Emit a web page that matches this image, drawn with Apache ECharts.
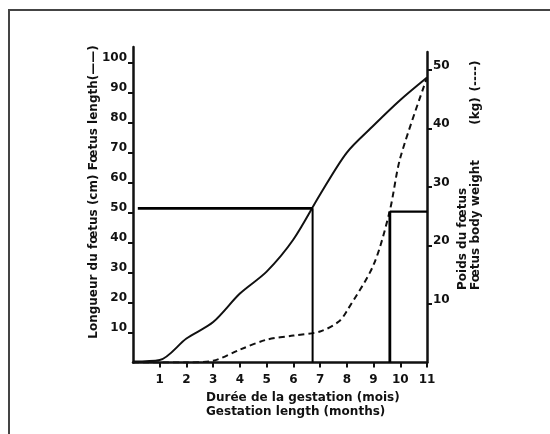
<!DOCTYPE html>
<html>
<head>
<meta charset="utf-8">
<script src="https://cdn.jsdelivr.net/npm/echarts@6/dist/echarts.min.js"></script>
<style>
html,body{margin:0;padding:0;background:#fff;}
#chart{width:550px;height:434px;}
</style>
</head>
<body>
<div id="chart"></div>
<script>
// months on the x axis
const monthTicks = [1, 2, 3, 4, 5, 6, 7, 8, 9, 10, 11]
const lengthTicks = [10, 20, 30, 40, 50, 60, 70, 80, 90, 100]
const weightTicks = [10, 20, 30, 40, 50]

// foetus length (cm), solid line
const lengthMonths = [0, 1, 2, 3, 4, 5, 6, 7, 8, 9, 10, 11]
const lengthCm = [0.3, 0.8, 8, 13.5, 23, 30.3, 41, 56, 70, 79, 87.5, 95]

// foetus weight (kg), dashed line
const weightMonths = [0, 1, 2, 3, 4, 5, 6, 7, 7.7, 8, 9, 9.6, 10, 11]
const weightKg = [0, 0, 0, 0.3, 2.2, 3.9, 4.6, 5.3, 7, 8.8, 16.7, 25.8, 35, 48.7]

// guide lines
const lengthGuideH = [[0.18, 51.4], [6.72, 51.4]]
const lengthGuideV = [[6.72, 51.4], [6.72, 0]]
const weightGuideV = [[9.61, 0], [9.61, 25.8]]
const weightGuideH = [[9.61, 25.8], [11, 25.8]]

const pairs = (xs, ys) => xs.map((x, i) => [x, ys[i]])

const font = '"DejaVu Sans", sans-serif'
const black = '#111'

const chart = echarts.init(document.getElementById('chart'))

function xAxisCfg(idx, show){
    return {
        type: 'value',
        gridIndex: idx,
        min: 0,
        max: 11,
        show: show,
        splitLine: {show: false},
        axisLine: {onZero: false, lineStyle: {color: black, width: 2.5}},
        axisTick: {customValues: monthTicks, length: 5, lineStyle: {color: black, width: 2}},
        axisLabel: {
            customValues: monthTicks,
            margin: 11,
            color: black,
            fontFamily: font,
            fontWeight: 'bold',
            fontSize: 12
        }
    }
}

function yLabel(ticks){
    return {
        customValues: ticks,
        margin: 6,
        color: black,
        fontFamily: font,
        fontWeight: 'bold',
        fontSize: 12,
        lineHeight: 9,
        verticalAlign: 'bottom'
    }
}

function vText(x, y, text, align){
    return {
        type: 'text', x: x, y: y, rotation: Math.PI / 2,
        style: {
            text: text,
            font: 'bold 12px ' + font, fill: black,
            textAlign: align, textVerticalAlign: 'middle'
        }
    }
}

const option = {
    animation: false,
    backgroundColor: '#fff',
    grid: [
        {left: 133, right: 123, top: 47, bottom: 71.5},
        {left: 133, right: 123, top: 52, bottom: 71.5}
    ],
    xAxis: [xAxisCfg(0, true), xAxisCfg(1, false)],
    yAxis: [
        {
            type: 'value',
            gridIndex: 0,
            position: 'left',
            min: 0,
            max: 105.2,
            splitLine: {show: false},
            axisLine: {show: true, onZero: false, lineStyle: {color: black, width: 2.5}},
            axisTick: {customValues: lengthTicks, length: 5, lineStyle: {color: black, width: 2}},
            axisLabel: yLabel(lengthTicks)
        },
        {
            type: 'value',
            gridIndex: 1,
            position: 'right',
            min: 0,
            max: 53.1,
            splitLine: {show: false},
            axisLine: {show: true, onZero: false, lineStyle: {color: black, width: 2.5}},
            axisTick: {customValues: weightTicks, length: 5, lineStyle: {color: black, width: 2}},
            axisLabel: yLabel(weightTicks)
        }
    ],
    series: [
        {
            name: 'length',
            type: 'line',
            xAxisIndex: 0,
            yAxisIndex: 0,
            data: pairs(lengthMonths, lengthCm),
            smooth: 0.3,
            showSymbol: false,
            lineStyle: {color: black, width: 2}
        },
        {
            name: 'weight',
            type: 'line',
            xAxisIndex: 1,
            yAxisIndex: 1,
            data: pairs(weightMonths, weightKg),
            smooth: 0.3,
            showSymbol: false,
            lineStyle: {color: black, width: 2, type: [6, 4]}
        },
        {
            type: 'line', xAxisIndex: 0, yAxisIndex: 0, data: lengthGuideH,
            showSymbol: false, lineStyle: {color: '#000', width: 2.8}
        },
        {
            type: 'line', xAxisIndex: 0, yAxisIndex: 0, data: lengthGuideV,
            showSymbol: false, lineStyle: {color: '#000', width: 2}
        },
        {
            type: 'line', xAxisIndex: 1, yAxisIndex: 1, data: weightGuideV,
            showSymbol: false, lineStyle: {color: '#000', width: 2.8}
        },
        {
            type: 'line', xAxisIndex: 1, yAxisIndex: 1, data: weightGuideH,
            showSymbol: false, lineStyle: {color: '#000', width: 2.2}
        }
    ],
    graphic: [
        {
            type: 'rect',
            shape: {x: 9, y: 10, width: 600, height: 500},
            style: {fill: 'none', stroke: '#444', lineWidth: 2},
            silent: true
        },
        vText(94, 192, 'Longueur du fœtus (cm) Fœtus length(——)', 'center'),
        vText(463, 290, 'Poids du fœtus', 'left'),
        vText(476, 290, 'Fœtus body weight', 'left'),
        vText(476, 111, '(kg)', 'center'),
        vText(476, 76, '(----)', 'center'),
        {
            type: 'text', x: 206, y: 398,
            style: {
                text: 'Durée de la gestation (mois)',
                font: 'bold 12px ' + font, fill: black,
                textAlign: 'left', textVerticalAlign: 'middle'
            }
        },
        {
            type: 'text', x: 206, y: 412,
            style: {
                text: 'Gestation length (months)',
                font: 'bold 12px ' + font, fill: black,
                textAlign: 'left', textVerticalAlign: 'middle'
            }
        }
    ]
}

chart.setOption(option)
</script>
</body>
</html>
